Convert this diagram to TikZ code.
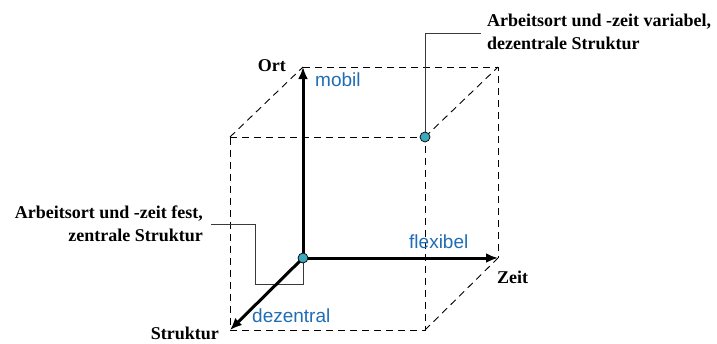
\documentclass[tikz,border=0pt]{standalone}
\usepackage{fontspec}
\setmainfont{Liberation Serif}
\newfontfamily\labelsans{Liberation Sans}
\usetikzlibrary{arrows.meta}
\definecolor{axisblue}{HTML}{1F6DB4}
\definecolor{dotteal}{HTML}{3BA8BC}
\definecolor{leadergray}{HTML}{3A3A3A}
\tikzset{
  edge/.style={line width=0.9pt, dash pattern=on 7pt off 5pt},
  axis/.style={line width=3pt, -{Latex[length=12pt,width=10pt]}},
  leader/.style={line width=0.8pt, leadergray},
  serifbold/.style={font=\fontsize{18}{23}\selectfont\bfseries, inner sep=0pt},
  bluelabel/.style={font=\labelsans\fontsize{19}{19}\selectfont, text=axisblue, inner sep=0pt},
  pointdot/.style={circle, fill=dotteal, draw=black, line width=0.7pt, minimum size=10pt, inner sep=0pt}
}
\begin{document}
\begin{tikzpicture}[x=1pt,y=-1pt]
\useasboundingbox (0,0) rectangle (717,343);
% cube corners
\coordinate (O) at (303,258);
\coordinate (BT) at (303,67);
\coordinate (BTR) at (498,67);
\coordinate (BBR) at (498,258);
\coordinate (FTL) at (230,137);
\coordinate (FTR) at (425,137);
\coordinate (FBL) at (230,330);
\coordinate (FBR) at (425,330);
% dashed edges of the cube
\draw[edge] (FTL) -- (FTR) -- (FBR) -- (FBL) -- cycle;
\draw[edge] (BT) -- (BTR) -- (BBR);
\draw[edge] (FTL) -- (BT);
\draw[edge] (FTR) -- (BTR);
\draw[edge] (FBR) -- (BBR);
% leader lines
\coordinate (lv1) at (425,33);
\coordinate (lv2) at (481,33);
\coordinate (lf1) at (211,224);
\coordinate (lf2) at (255,224);
\coordinate (lf3) at (255,284);
\coordinate (lf4) at (303,284);
\draw[leader] (FTR) -- (lv1) -- (lv2);
\draw[leader] (lf1) -- (lf2) -- (lf3) -- (lf4) -- (O);
% axes
\draw[axis] (O) -- (BT);
\draw[axis] (O) -- (BBR);
\draw[axis] (O) -- (FBL);
% points
\node[pointdot] (p0) at (O) {};
\node[pointdot] (p1) at (FTR) {};
% axis names
\node[serifbold, anchor=east] (ort) at (286,66) {Ort};
\node[serifbold, anchor=west] (zeit) at (497,277) {Zeit};
\node[serifbold, anchor=east] (struktur) at (219,333) {Struktur};
% axis values
\node[bluelabel, anchor=west] (mobil) at (315,80) {mobil};
\node[bluelabel, anchor=west] (flexibel) at (409,242) {flexibel};
\node[bluelabel, anchor=west] (dezentral) at (252,316) {dezentral};
% descriptions
\node[serifbold, anchor=west, align=left] (var) at (487,32) {Arbeitsort und -zeit variabel,\\dezentrale Struktur};
\node[serifbold, anchor=east, align=right] (fest) at (203,224) {Arbeitsort und -zeit fest,\\zentrale Struktur};
\end{tikzpicture}
\end{document}
